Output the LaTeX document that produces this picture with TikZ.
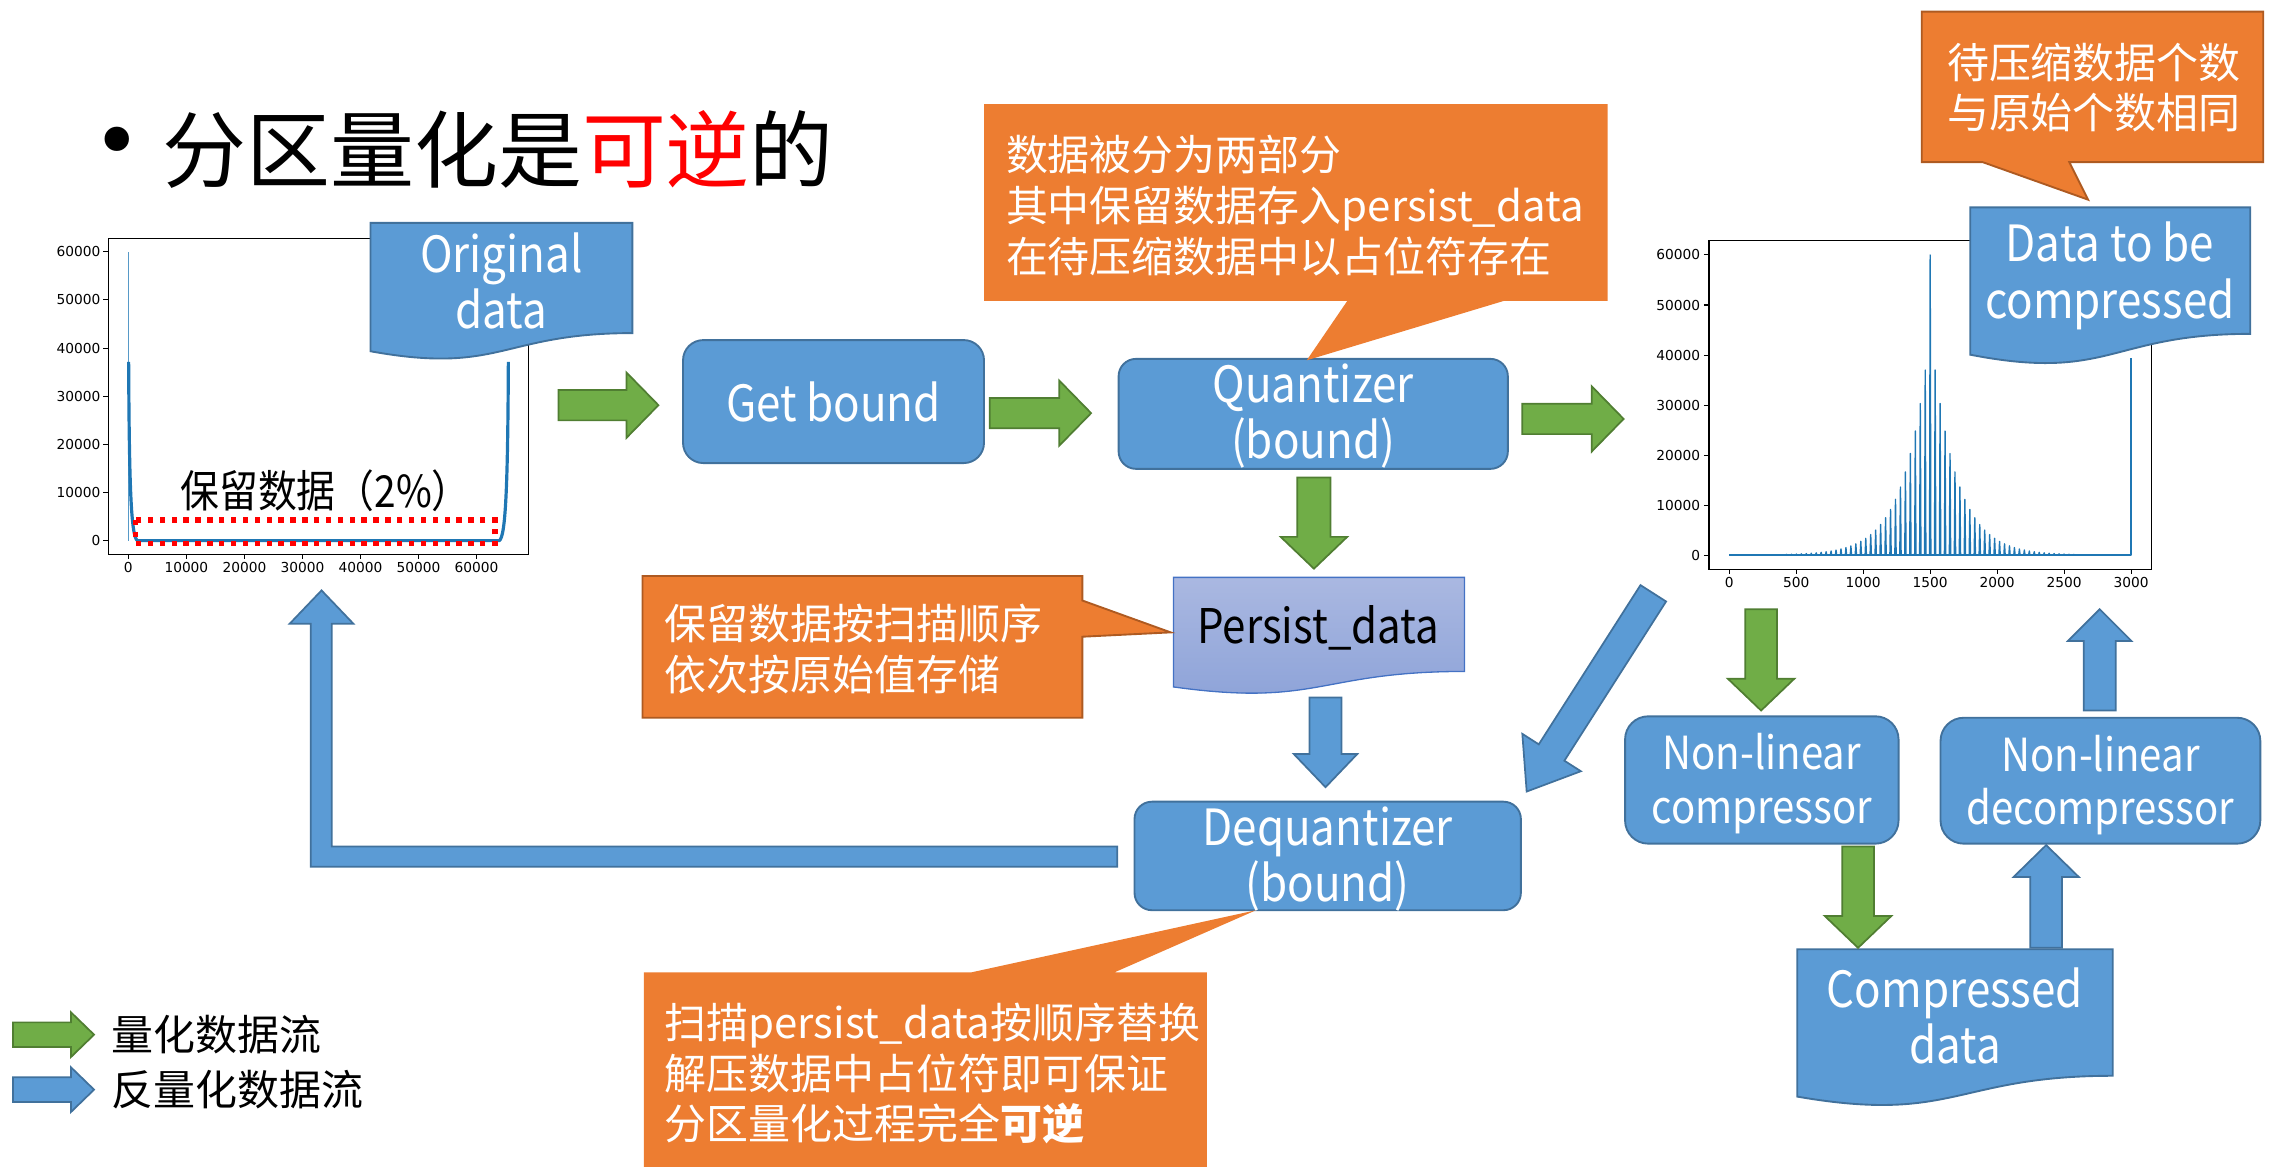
\documentclass[tikz,border=0pt]{standalone}
\usepackage{fontspec}
\setmainfont{Noto Sans CJK SC}
\newfontfamily\narrowfont{Noto Sans CJK SC}[FakeStretch=0.88]
\newfontfamily\tickfont{DejaVu Sans}
\usetikzlibrary{calc}
\definecolor{bfill}{HTML}{5B9BD5}
\definecolor{bborder}{HTML}{41719C}
\definecolor{gfill}{HTML}{70AD47}
\definecolor{gborder}{HTML}{507E32}
\definecolor{ofill}{HTML}{ED7D31}
\definecolor{oborder}{HTML}{AE5A21}
\definecolor{plotblue}{HTML}{1F77B4}
\definecolor{ptop}{HTML}{AAB8E1}
\definecolor{pbot}{HTML}{8CA2D8}
\definecolor{pborder}{HTML}{4472C4}

% block arrow: style, tail, tip, shaft half width, head half width, head length
\newcommand\blockarrow[6]{%
  \coordinate (ba-s) at #2;
  \coordinate (ba-e) at #3;
  \coordinate (ba-h) at ($(ba-e)!#6!(ba-s)$);
  \draw[#1] ($(ba-s)!#4!90:(ba-e)$) -- ($(ba-h)!#4!90:(ba-e)$) -- ($(ba-h)!#5!90:(ba-e)$)
    -- (ba-e) -- ($(ba-h)!#5!-90:(ba-e)$) -- ($(ba-h)!#4!-90:(ba-e)$) -- ($(ba-s)!#4!-90:(ba-e)$) -- cycle;}

% document shape with a wavy bottom: style, x, y, width, height
\newcommand\docshape[5]{%
  \filldraw[#1] (#2,#3) -- ({#2+#4},#3) -- ({#2+#4},{#3+0.802*#5})
    .. controls ({#2+0.5*#4},{#3+0.802*#5}) and ({#2+0.5*#4},{#3+1.107*#5}) .. (#2,{#3+0.934*#5}) -- cycle;}

\begin{document}
\begin{tikzpicture}[x=1pt,y=-1pt,
  bluebox/.style={draw=bborder, fill=bfill, line width=1.3pt, rounded corners=14pt},
  bigtext/.style={text=white, align=center, inner sep=0pt, font=\narrowfont\fontsize{34.5}{39}\selectfont},
  midtext/.style={text=white, align=center, inner sep=0pt, font=\narrowfont\fontsize{31.5}{37}\selectfont},
  notetext/.style={text=white, align=left, inner sep=0pt, anchor=west, font=\fontsize{29}{35}\selectfont},
  blacktext/.style={text=black, inner sep=0pt, font=\fontsize{29}{35}\selectfont},
  garrow/.style={fill=gfill, draw=gborder, line width=1.2pt},
  barrow/.style={fill=bfill, draw=bborder, line width=1.2pt},
  docblue/.style={fill=bfill, draw=bborder, line width=1.3pt},
  calloutplain/.style={fill=ofill},
  calloutedge/.style={fill=ofill, draw=oborder, line width=1.3pt},
  frame/.style={draw=black, line width=0.8pt},
  tickmark/.style={draw=black, line width=0.7pt},
  ticklbl/.style={inner sep=0pt, font=\tickfont\fontsize{9.5}{10}\selectfont},
  plotline/.style={draw=plotblue, line width=1.1pt, line join=round}]

\useasboundingbox (0,0) rectangle (1568,806);
\clip (0,0) rectangle (1568,806);

% ---------- heading ----------
\node[inner sep=0pt, font=\tickfont\fontsize{58}{58}\selectfont] (bullet) at (81,103) {•};
\node[inner sep=0pt, anchor=west, font=\fontsize{58}{58}\selectfont] (heading) at (112,103)
  {分区量化是\textcolor{red}{可逆}的};

% ---------- left histogram ----------
\draw[frame] (75,164.6) rectangle (365,383);
\foreach \i in {0,...,6}{
  \pgfmathsetmacro\yy{373.6-\i*33.267}
  \draw[tickmark] (71.5,\yy) -- (75,\yy);
  \node[ticklbl, anchor=east] at (69.5,\yy) {\the\numexpr\i*10000\relax};
  \pgfmathsetmacro\xx{88.7+\i*40.1}
  \draw[tickmark] (\xx,383) -- (\xx,386.5);
  \node[ticklbl, anchor=north] at (\xx,388.5) {\the\numexpr\i*10000\relax};
}
\draw[plotline, line width=1pt, draw opacity=0.75] (88.7,373.6) -- (88.7,174);
\draw[plotline, line width=2.2pt] (88.9,250) .. controls (89.3,335) and (90.5,371) .. (95,373.6)
  -- (345,373.6) .. controls (349.5,371) and (350.9,335) .. (351.3,250);
\draw[red, line width=3.7pt, dash pattern=on 3.7pt off 4.5pt] (93.7,359.4) rectangle (342,375.5);
\node[blacktext, font=\narrowfont\fontsize{30.5}{35}\selectfont] (keep) at (225,339) {保留数据（2\%）};

% ---------- right histogram ----------
\draw[frame] (1181,166.3) rectangle (1487,393.3);
\foreach \i in {0,...,6}{
  \pgfmathsetmacro\yy{383.6-\i*34.567}
  \draw[tickmark] (1177.5,\yy) -- (1181,\yy);
  \node[ticklbl, anchor=east] at (1175,\yy) {\the\numexpr\i*10000\relax};
  \pgfmathsetmacro\xx{1195+\i*46.28}
  \draw[tickmark] (\xx,393.3) -- (\xx,396.8);
  \node[ticklbl, anchor=north] at (\xx,398.8) {\the\numexpr\i*500\relax};
}
\draw[plotline] (1195,383.6) -- (1472.7,383.6) -- (1472.7,247.6);
\foreach \k in {-40,...,40}{
  \pgfmathsetmacro\xx{1333.85+\k*3.425}
  \pgfmathsetmacro\hh{\k==0 ? 207.4 : 127.9*exp(-0.2*(abs(\k)-1))}
  \draw[plotline, line width=0.95pt] (\xx-0.45,383.6) -- (\xx,383.6-\hh) -- (\xx+0.45,383.6);
}

% ---------- data banners ----------
\docshape{docblue}{256}{154}{181}{95}
\node[bigtext] (orig) at (346.5,194) {Original\\data};

\docshape{docblue}{1361.5}{143.3}{193.5}{109}
\node[bigtext] (tobe) at (1458,190.5) {Data to be\\compressed};

\docshape{docblue}{1242}{656}{218}{109}
\node[bigtext] (comp) at (1351,702) {Compressed\\data};

\filldraw[top color=ptop, bottom color=pbot, draw=pborder, line width=0.9pt]
  (811,399) -- (1012,399) -- (1012,464) .. controls (911.5,464) and (911.5,488.7) .. (811,474.7) -- cycle;
\node[inner sep=0pt, font=\narrowfont\fontsize{33}{37}\selectfont] (persist) at (911,434) {Persist\_data};

% ---------- processing boxes ----------
\node[bluebox, minimum width=208pt, minimum height=85pt] (getb) at (576,277.5) {};
\node[bigtext] at (getb.center) {Get bound};

\node[bluebox, rounded corners=12pt, minimum width=269pt, minimum height=76pt] (quant) at (907.5,286) {};
\node[bigtext] at (907.5,287.5) {Quantizer\\(bound)};

\node[bluebox, rounded corners=12pt, minimum width=267pt, minimum height=75pt] (dequant) at (917.5,591.5) {};
\node[bigtext] at (917.5,593.5) {Dequantizer\\(bound)};

\node[bluebox, rounded corners=16pt, minimum width=189pt, minimum height=88pt] (nlc) at (1217.5,539) {};
\node[midtext] at (1217.5,541.5) {Non-linear\\compressor};

\node[bluebox, rounded corners=16pt, minimum width=221pt, minimum height=87pt] (nld) at (1451.5,539.5) {};
\node[midtext] at (1451.5,542.5) {Non-linear\\decompressor};

% ---------- quantization flow (green) ----------
\blockarrow{garrow}{(386,280)}{(455,280)}{10.5pt}{22.5pt}{22pt}
\blockarrow{garrow}{(684,285.5)}{(754,285.5)}{10.5pt}{22.5pt}{22pt}
\blockarrow{garrow}{(1052,289.5)}{(1122,289.5)}{10.5pt}{22.5pt}{22pt}
\blockarrow{garrow}{(908,330)}{(908,393)}{11.5pt}{23pt}{22pt}
\blockarrow{garrow}{(1217,421)}{(1217,491)}{11pt}{23pt}{22pt}
\blockarrow{garrow}{(1284,585)}{(1284,655)}{11pt}{23pt}{22pt}

% ---------- dequantization flow (blue) ----------
\blockarrow{barrow}{(1414,655)}{(1414,584)}{11pt}{22.5pt}{22pt}
\blockarrow{barrow}{(1451,491)}{(1451,421)}{11pt}{22pt}{22pt}
\blockarrow{barrow}{(916,482)}{(916,544)}{11pt}{22pt}{23pt}
\blockarrow{barrow}{(1142.5,410)}{(1055,547)}{10.5pt}{24pt}{32pt}
\filldraw[barrow] (772,585) -- (229.2,585) -- (229.2,431) -- (244.2,431) -- (222.2,408)
  -- (200.2,431) -- (214.7,431) -- (214.7,599) -- (772,599) -- cycle;

% ---------- notes ----------
\fill[calloutplain] (680,72) -- (1111,72) -- (1111,208) -- (1039,208) -- (903,249) -- (931,208) -- (680,208) -- cycle;
\node[notetext] (note1) at (695,142) {数据被分为两部分\\其中保留数据存入persist\_data\\在待压缩数据中以占位符存在};

\filldraw[calloutedge] (444,398) -- (748,398) -- (748,415) -- (809,437) -- (748,440) -- (748,496) -- (444,496) -- cycle;
\node[notetext] (note2) at (459,448.5) {保留数据按扫描顺序\\依次按原始值存储};

\filldraw[calloutedge] (1328,8) -- (1564,8) -- (1564,112) -- (1430,112) -- (1443,138) -- (1370,112) -- (1328,112) -- cycle;
\node[notetext, align=center, anchor=center] (note3) at (1447,60.5) {待压缩数据个数\\与原始个数相同};

\fill[calloutplain] (445,672) -- (671,672) -- (868,629) -- (770,672) -- (834,672) -- (834,812) -- (445,812) -- cycle;
\node[notetext] (note4) at (459,742) {扫描persist\_data按顺序替换\\解压数据中占位符即可保证\\分区量化过程完全\textbf{可逆}};

% ---------- legend ----------
\blockarrow{garrow}{(9,715)}{(65,715)}{8.5pt}{15.5pt}{16pt}
\node[blacktext, anchor=west] (lg1) at (77,715) {量化数据流};
\blockarrow{barrow}{(9,753)}{(65,753)}{8.5pt}{15.5pt}{16pt}
\node[blacktext, anchor=west] (lg2) at (77,753) {反量化数据流};

\end{tikzpicture}
\end{document}
